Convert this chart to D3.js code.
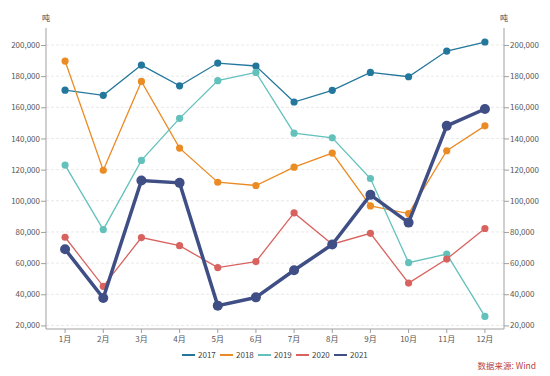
<!DOCTYPE html>
<html><head><meta charset="utf-8">
<script src="https://cdn.jsdelivr.net/npm/d3@7"></script>
<style>body{margin:0;background:#fff;font-family:"Noto Sans CJK SC","Noto Sans",sans-serif;}</style>
</head><body><svg id="c" width="550" height="376"></svg>
<script>
const months = ["1月","2月","3月","4月","5月","6月","7月","8月","9月","10月","11月","12月"];
const yTicks = [20000,40000,60000,80000,100000,120000,140000,160000,180000,200000];
const s2017 = [171000,167700,187100,173800,188400,186500,163400,170900,182400,179600,196100,201900];
const s2018 = [189700,119600,176600,133800,111900,109800,121600,130600,96700,91800,132100,148100];
const s2019 = [122900,81500,125900,152900,177100,182400,143400,140400,114300,60300,65800,25800];
const s2020 = [76600,45100,76400,71200,57100,60950,92200,72100,79100,47200,62600,82200];
const s2021 = [68900,37600,113000,111500,32700,38000,55400,71900,103800,86000,148100,158900];
const seriesNames = ["2017","2018","2019","2020","2021"];
const colors = ["#24779c","#eb8b24","#63c1bc","#d8625e","#3f4e85"];
const values = [s2017,s2018,s2019,s2020,s2021];

const svg = d3.select("#c");
const L=46,R=504,T=28,B=329;
const x = d3.scaleBand().domain(months).range([L,R]).padding(0);
const y = d3.scaleLinear().domain([17700,210900]).range([B,T]);
const fmt = d3.format(",");
const tickFont = 8;

svg.append("g").selectAll("line").data(yTicks).join("line")
  .attr("x1",L).attr("x2",R).attr("y1",d=>y(d)).attr("y2",d=>y(d))
  .attr("stroke","#e3e3e3").attr("stroke-dasharray","3,2").attr("stroke-width",0.8);

const la = svg.append("g").attr("transform",`translate(${L},0)`)
  .call(d3.axisLeft(y).tickValues(yTicks).tickFormat(fmt).tickSize(5).tickPadding(1));
const ra = svg.append("g").attr("transform",`translate(${R},0)`)
  .call(d3.axisRight(y).tickValues(yTicks).tickFormat(fmt).tickSize(5).tickPadding(1));
const ba = svg.append("g").attr("transform",`translate(0,${B})`)
  .call(d3.axisBottom(x).tickSize(4).tickPadding(3));
[la,ra,ba].forEach(a=>{
  a.select(".domain").attr("stroke","#a0a0a0");
  a.selectAll(".tick line").attr("stroke","#a0a0a0");
  a.selectAll(".tick text").attr("fill","#555").attr("font-size",tickFont)
   .attr("font-family","'Noto Sans CJK SC','Noto Sans',sans-serif");
});
la.select(".domain").attr("d",`M0,${T}V${B}`);
ra.select(".domain").attr("d",`M0,${T}V${B}`);
ba.select(".domain").attr("d",`M${L},0H${R}`);

svg.append("text").attr("x",L).attr("y",21).attr("text-anchor","middle").attr("font-size",8).attr("fill","#444").text("吨");
svg.append("text").attr("x",R).attr("y",21).attr("text-anchor","middle").attr("font-size",8).attr("fill","#444").text("吨");

const cx = m => x(m)+x.bandwidth()/2;
const line = d3.line().x((d,i)=>cx(months[i])).y(d=>y(d));

values.forEach((vals,k)=>{
  const big = k===4;
  const g = svg.append("g");
  g.append("path").datum(vals).attr("d",line).attr("fill","none")
    .attr("stroke",colors[k]).attr("stroke-width",big?3.5:1.3);
  g.selectAll("circle").data(vals).join("circle")
    .attr("cx",(d,i)=>cx(months[i])).attr("cy",d=>y(d)).attr("r",big?5:3.6)
    .attr("fill",colors[k]);
});

const lg = svg.append("g");
seriesNames.forEach((n,i)=>{
  const x0 = 182 + i*38;
  lg.append("line").attr("x1",x0).attr("x2",x0+13).attr("y1",355).attr("y2",355)
    .attr("stroke",colors[i]).attr("stroke-width",2);
  lg.append("text").attr("x",x0+16).attr("y",358).attr("font-size",8).attr("fill","#444").text(n);
});

svg.append("text").attr("x",536).attr("y",369).attr("text-anchor","end")
  .attr("font-size",8.5).attr("fill","#b8433f").text("数据来源: Wind");
</script></body></html>
